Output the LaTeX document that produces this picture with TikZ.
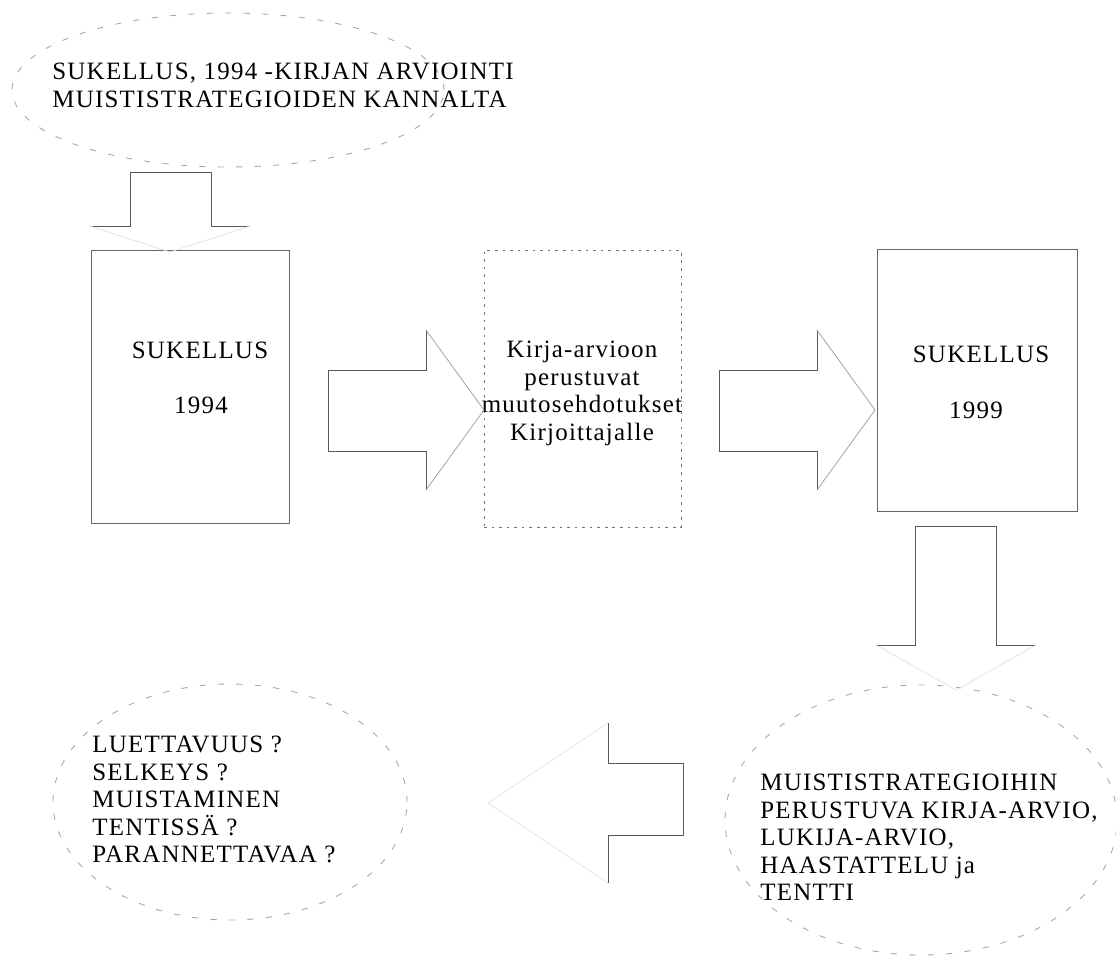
\documentclass[tikz,border=0pt]{standalone}
\usepackage{fontspec}
\setmainfont{Liberation Serif}[LetterSpace=5]
\usetikzlibrary{shapes.geometric}

\begin{document}
\begin{tikzpicture}[x=0.2mm,y=-0.2mm]
    \tikzstyle{label}=[font=\fontsize{14.2}{15.6}\selectfont, inner sep=0pt];
    \tikzstyle{bubble}=[draw=black!35, line width=0.5pt, dash pattern=on 3.5pt off 7pt, ellipse, inner sep=0pt];
    \tikzstyle{book}=[draw=black!60, line width=0.5pt, rectangle, inner sep=0pt];
    \tikzstyle{plan}=[draw=black!55, line width=0.5pt, dash pattern=on 1.5pt off 2.8pt, rectangle, inner sep=0pt];
    \tikzstyle{shaft}=[draw=black!65, line width=0.5pt];
    \tikzstyle{head}=[draw=black!40, line width=0.4pt];
    \tikzstyle{ghost}=[draw=black!12, line width=0.4pt];
    \useasboundingbox (0,0) rectangle (1116,958);

    % ellipses
    \node (evaltop) [bubble, minimum width=86.4mm, minimum height=30.8mm] at (228,90) {};
    \node (questions) [bubble, minimum width=70.8mm, minimum height=47.2mm] at (230,802) {};
    \node (methods) [bubble, minimum width=78.4mm, minimum height=54mm] at (921,820) {};

    % boxes
    \node (book94) [book, minimum width=39.6mm, minimum height=54.6mm] at (190,386.5) {};
    \node (changes) [plan, minimum width=39.4mm, minimum height=55.4mm] at (582.5,388.5) {};
    \node (book99) [book, minimum width=40mm, minimum height=52.4mm] at (977,380) {};

    % texts
    \node (evaltext) [label, align=left, anchor=north west] at (52,63) {SUKELLUS, 1994 -KIRJAN ARVIOINTI\\MUISTISTRATEGIOIDEN KANNALTA};
    \node (sk94) [label, anchor=base] at (200,358) {SUKELLUS};
    \node (y94) [label, anchor=base] at (201,413) {1994};
    \node (changetext) [label, align=center, anchor=north] at (582,341) {Kirja-arvioon\\perustuvat\\muutosehdotukset\\Kirjoittajalle};
    \node (sk99) [label, anchor=base] at (981,362) {SUKELLUS};
    \node (y99) [label, anchor=base] at (976,418) {1999};
    \node (qtext) [label, align=left, anchor=north west] at (92,736) {LUETTAVUUS ?\\SELKEYS ?\\MUISTAMINEN\\TENTISSÄ ?\\PARANNETTAVAA ?};
    \node (mtext) [label, align=left, anchor=north west] at (760,774) {MUISTISTRATEGIOIHIN\\PERUSTUVA KIRJA-ARVIO,\\LUKIJA-ARVIO,\\HAASTATTELU ja\\TENTTI};

    % block arrows
    \draw [shaft] (90,226) -- (130,226) -- (130,172) -- (211,172) -- (211,226) -- (250,226);
    \draw [ghost] (250,226) -- (170,252) -- (90,226);

    \foreach \x/\tip in {328/484, 719/875}{
        \draw [shaft] (\x+98,330) -- (\x+98,370) -- (\x,370) -- (\x,451) -- (\x+98,451) -- (\x+98,490);
        \draw [head] (\x+98,330) -- (\tip,410) -- (\x+98,490);
    }

    \draw [shaft] (876,645) -- (915,645) -- (915,526) -- (996,526) -- (996,645) -- (1036,645);
    \draw [ghost] (1036,645) -- (956,690) -- (876,645);

    \draw [shaft] (608,723) -- (608,763) -- (683,763) -- (683,835) -- (608,835) -- (608,883);
    \draw [ghost] (608,723) -- (488,803) -- (608,883);

\end{tikzpicture}
\end{document}
